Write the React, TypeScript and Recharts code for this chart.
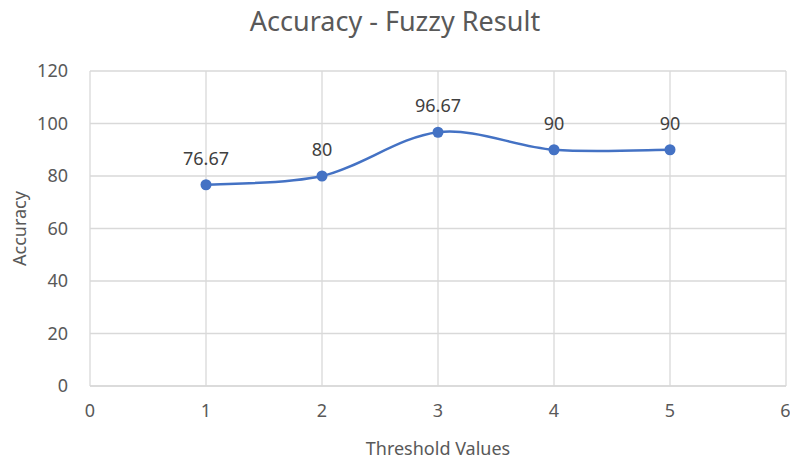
import React from 'react';
import { LineChart, Line, XAxis, YAxis, CartesianGrid, LabelList } from 'recharts';

const thresholds = [1, 2, 3, 4, 5];
const accuracy = [76.67, 80, 96.67, 90, 90];
const xTicks = [0, 1, 2, 3, 4, 5, 6];
const yTicks = [0, 20, 40, 60, 80, 100, 120];

const data = thresholds.map((t, i) => ({ threshold: t, accuracy: accuracy[i] }));

const textColor = '#595959';
const gridColor = '#D9D9D9';
const lineColor = '#4472C4';
const font = '"Noto Sans", sans-serif';

// Excel-like smoothed line (Catmull-Rom through the points)
const excelSmooth = (context: any) => {
  let pts: number[][] = [];
  return {
    areaStart() {},
    areaEnd() {},
    lineStart() {
      pts = [];
    },
    point(x: number, y: number) {
      pts.push([+x, +y]);
    },
    lineEnd() {
      if (!pts.length) return;
      context.moveTo(pts[0][0], pts[0][1]);
      for (let i = 0; i < pts.length - 1; i++) {
        const p0 = pts[i - 1] || pts[i];
        const p1 = pts[i];
        const p2 = pts[i + 1];
        const p3 = pts[i + 2] || pts[i + 1];
        context.bezierCurveTo(
          p1[0] + (p2[0] - p0[0]) / 6,
          p1[1] + (p2[1] - p0[1]) / 6,
          p2[0] - (p3[0] - p1[0]) / 6,
          p2[1] - (p3[1] - p1[1]) / 6,
          p2[0],
          p2[1]
        );
      }
    },
  };
};

const App: React.FC = () => {
  return (
    <div style={{ position: 'absolute', left: 0, top: 0, width: 790, height: 461, background: '#fff', fontFamily: font }}>
      <div
        style={{
          position: 'absolute',
          top: 2,
          left: 0,
          width: 790,
          textAlign: 'center',
          fontSize: 27,
          color: textColor,
        }}
      >
        Accuracy - Fuzzy Result
      </div>
      <LineChart width={790} height={461} data={data} margin={{ top: 71, right: 4, bottom: 0, left: 0 }}>
        <CartesianGrid stroke={gridColor} strokeWidth={1.3} />
        <XAxis
          type="number"
          dataKey="threshold"
          domain={[0, 6]}
          ticks={xTicks}
          height={75}
          axisLine={{ stroke: gridColor, strokeWidth: 1.3 }}
          tickLine={false}
          tickMargin={12}
          tick={{ fill: textColor, fontSize: 18, fontFamily: font }}
          label={{ value: 'Threshold Values', position: 'insideBottom', offset: 6, fill: textColor, fontSize: 18, fontFamily: font }}
        />
        <YAxis
          type="number"
          domain={[0, 120]}
          ticks={yTicks}
          width={90}
          axisLine={false}
          tickLine={false}
          tickMargin={16}
          tick={{ fill: textColor, fontSize: 18, fontFamily: font }}
          label={{ value: 'Accuracy', angle: -90, position: 'insideLeft', offset: 20, fill: textColor, fontSize: 18, fontFamily: font, style: { textAnchor: 'middle' } }}
        />
        <Line
          type={excelSmooth as any}
          dataKey="accuracy"
          stroke={lineColor}
          strokeWidth={2.5}
          dot={{ r: 5.5, fill: lineColor, stroke: lineColor, strokeWidth: 0 }}
          isAnimationActive={false}
        >
          <LabelList dataKey="accuracy" position="top" offset={20} fill="#404040" fontSize={18} fontFamily={font} />
        </Line>
      </LineChart>
    </div>
  );
};

export default App;
